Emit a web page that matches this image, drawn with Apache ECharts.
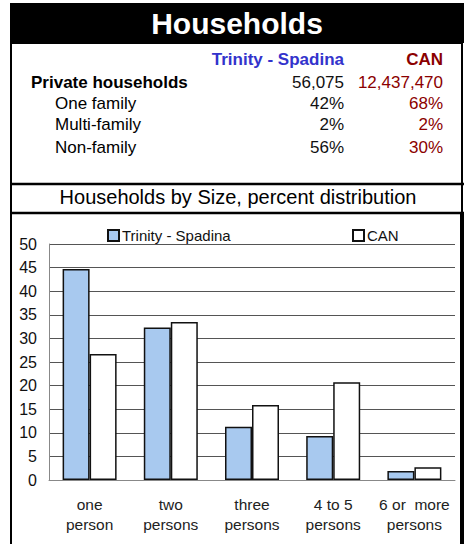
<!DOCTYPE html>
<html>
<head>
<meta charset="utf-8">
<script src="https://cdn.jsdelivr.net/npm/echarts@6/dist/echarts.min.js"></script>
<style>
html,body{margin:0;padding:0;background:#fff;}
#c{width:467px;height:544px;}
</style>
</head>
<body>
<div id="c"></div>
<script>
var categories = ['one\nperson', 'two\npersons', 'three\npersons', '4 to 5\npersons', '6 or  more\npersons'];
var seriesNames = ['Trinity - Spadina', 'CAN'];
var trinityValues = [44.7, 32.3, 11.3, 9.3, 1.9];
var canValues = [26.7, 33.5, 15.9, 20.7, 2.7];
var yTicks = [0, 5, 10, 15, 20, 25, 30, 35, 40, 45, 50];
var tableRows = ['Private households', 'One family', 'Multi-family', 'Non-family'];
var trinityTable = ['56,075', '42%', '2%', '56%'];
var canTable = ['12,437,470', '68%', '2%', '30%'];

var FONT = 'Liberation Sans, Arial, sans-serif';
var chart = echarts.init(document.getElementById('c'), null, {renderer: 'svg'});

var rowY = [82, 103, 124, 147];
var rowX = [31, 55, 55, 55];
var graphics = [
  {type: 'rect', shape: {x: 10, y: 3, width: 454, height: 40}, style: {fill: '#000'}, z: 0},
  {type: 'rect', shape: {x: 11, y: 43, width: 451, height: 520}, style: {fill: 'none', stroke: '#000', lineWidth: 2}, z: 0},
  {type: 'rect', shape: {x: 460, y: 213, width: 4, height: 340}, style: {fill: '#000'}, z: 0},
  {type: 'line', shape: {x1: 10, y1: 184, x2: 464, y2: 184}, style: {stroke: '#000', lineWidth: 2.5}},
  {type: 'line', shape: {x1: 10, y1: 213, x2: 464, y2: 213}, style: {stroke: '#000', lineWidth: 2.5}},
  {type: 'text', x: 237, y: 23, style: {text: 'Households', fill: '#fff', font: 'bold 30px ' + FONT, textAlign: 'center', textVerticalAlign: 'middle'}},
  {type: 'text', x: 344, y: 59, style: {text: seriesNames[0], fill: '#3333cc', font: 'bold 17px ' + FONT, textAlign: 'right', textVerticalAlign: 'middle'}},
  {type: 'text', x: 443, y: 59, style: {text: seriesNames[1], fill: '#8b0000', font: 'bold 17px ' + FONT, textAlign: 'right', textVerticalAlign: 'middle'}},
  {type: 'text', x: 238, y: 197, style: {text: 'Households by Size, percent distribution', fill: '#000', font: '20px ' + FONT, textAlign: 'center', textVerticalAlign: 'middle'}}
];
tableRows.forEach(function (r, i) {
  graphics.push({type: 'text', x: rowX[i], y: rowY[i], style: {text: r, fill: '#000', font: (i === 0 ? 'bold ' : '') + '17px ' + FONT, textVerticalAlign: 'middle'}});
  graphics.push({type: 'text', x: 344, y: rowY[i], style: {text: trinityTable[i], fill: '#111', font: '17px ' + FONT, textAlign: 'right', textVerticalAlign: 'middle'}});
  graphics.push({type: 'text', x: 443, y: rowY[i], style: {text: canTable[i], fill: '#8b0000', font: '17px ' + FONT, textAlign: 'right', textVerticalAlign: 'middle'}});
});

var legendCommon = {
  top: 228, itemWidth: 11, itemHeight: 11, itemGap: 4, icon: 'rect',
  textStyle: {fontFamily: FONT, fontSize: 15, color: '#111', padding: [0, 0, 0, -2]},
  padding: 0
};

chart.setOption({
  animation: false,
  textStyle: {fontFamily: FONT},
  graphic: graphics,
  legend: [
    Object.assign({}, legendCommon, {left: 107, data: [seriesNames[0]]}),
    Object.assign({}, legendCommon, {left: 352, data: [seriesNames[1]]})
  ],
  grid: {left: 49, right: 12, top: 244, bottom: 64, containLabel: false},
  xAxis: {
    type: 'category',
    data: categories,
    axisLine: {show: true, lineStyle: {color: '#888', width: 1}},
    axisTick: {show: false},
    axisLabel: {fontFamily: FONT, fontSize: 15.5, color: '#222', lineHeight: 20, margin: 14, interval: 0}
  },
  yAxis: {
    type: 'value',
    min: yTicks[0], max: yTicks[yTicks.length - 1], interval: yTicks[1] - yTicks[0],
    axisLine: {show: true, lineStyle: {color: '#888', width: 1}},
    axisTick: {show: false},
    axisLabel: {fontFamily: FONT, fontSize: 16, color: '#111', margin: 12},
    splitLine: {show: true, lineStyle: {color: '#555', width: 1}}
  },
  series: [
    {name: seriesNames[0], type: 'bar', data: trinityValues, barWidth: 27, barGap: '0%',
     itemStyle: {color: '#a8c9ef', borderColor: '#111', borderWidth: 1.5}},
    {name: seriesNames[1], type: 'bar', data: canValues, barWidth: 27, barGap: '0%',
     itemStyle: {color: '#ffffff', borderColor: '#111', borderWidth: 1.5}}
  ]
});
</script>
</body>
</html>
